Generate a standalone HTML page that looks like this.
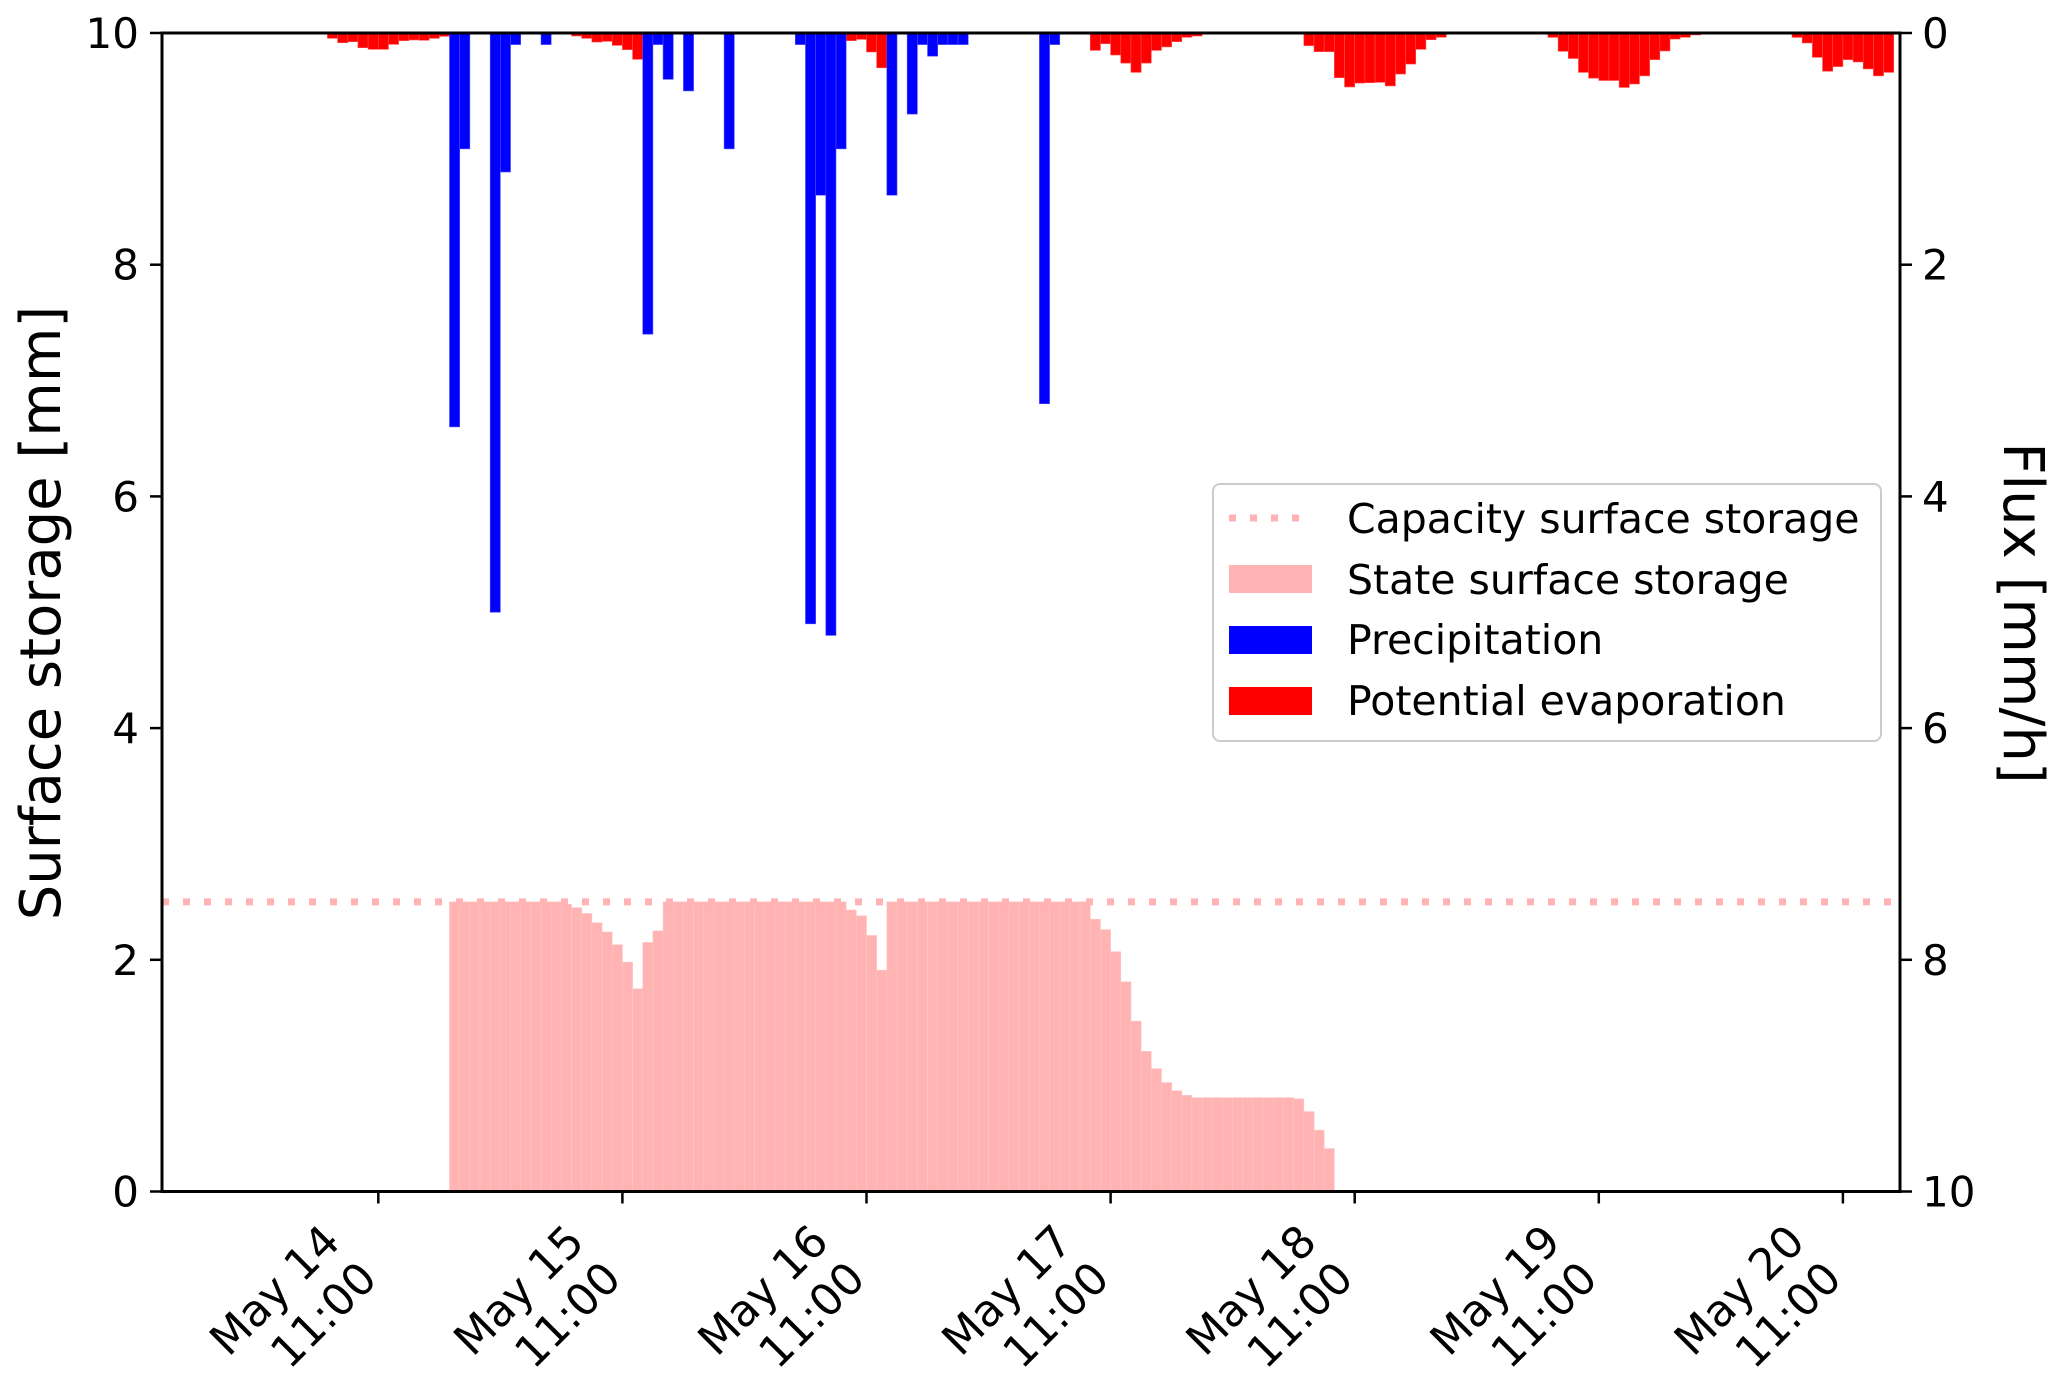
<!DOCTYPE html>
<html>
<head>
<meta charset="utf-8">
<style>
html,body{margin:0;padding:0;background:#fff;}
svg{display:block;}
text{font-family:"DejaVu Sans","Liberation Sans",sans-serif;fill:#000;}
</style>
</head>
<body>
<svg id="chart" width="2067" height="1379" viewBox="0 0 2067 1379" xmlns="http://www.w3.org/2000/svg">
  <rect x="0" y="0" width="2067" height="1379" fill="#fff"/>
  <g id="marks"></g>
  <g id="axes"></g>
  <text transform="translate(60,613) rotate(-90)" text-anchor="middle" font-size="56">Surface storage [mm]</text>
  <text transform="translate(2004,613) rotate(90)" text-anchor="middle" font-size="56">Flux [mm/h]</text>
  <g>
    <rect x="1213" y="484" width="668" height="257" rx="7" fill="#fff" fill-opacity="0.8" stroke="#cccccc" stroke-width="2"/>
    <line x1="1229" y1="518" x2="1312" y2="518" stroke="#ffb3b3" stroke-width="7" stroke-dasharray="7 14"/>
    <text x="1347" y="533" font-size="41">Capacity surface storage</text>
    <rect x="1229" y="565" width="83" height="28" fill="#ffb3b3"/>
    <text x="1347" y="594" font-size="41">State surface storage</text>
    <rect x="1229" y="626" width="83" height="28" fill="#0000ff"/>
    <text x="1347" y="654" font-size="41">Precipitation</text>
    <rect x="1229" y="687" width="83" height="28" fill="#ff0000"/>
    <text x="1347" y="715" font-size="41">Potential evaporation</text>
  </g>
</svg>
<script>
// ---- data (hours relative to May 14 11:00) ----
const storageStartHour = 7;
const storageValues = [2.5,2.5,2.5,2.5,2.5,2.5,2.5,2.5,2.5,2.5,2.5,
  2.48,2.45,2.40,2.32,2.24,2.13,1.98,1.75,2.15,2.25,
  2.5,2.5,2.5,2.5,2.5,2.5,2.5,2.5,2.5,2.5,2.5,2.5,2.5,2.5,2.5,2.5,2.5,2.5,
  2.43,2.38,2.21,1.91,
  2.5,2.5,2.5,2.5,2.5,2.5,2.5,2.5,2.5,2.5,2.5,2.5,2.5,2.5,2.5,2.5,2.5,2.5,2.5,2.5,
  2.35,2.26,2.07,1.81,1.47,1.21,1.06,0.94,0.87,0.83,
  0.81,0.81,0.81,0.81,0.81,0.81,0.81,0.81,0.81,0.81,
  0.80,0.69,0.53,0.37];
const capacity = 2.5;
const precipHours = [7,8,11,12,13,16,26,27,28,30,34,41,42,43,44,45,50,52,53,54,55,56,57,65,66];
const precipValues = [3.4,1.0,5.0,1.2,0.1,0.1,2.6,0.1,0.4,0.5,1.0,0.1,5.1,1.4,5.2,1.0,1.4,0.7,0.1,0.2,0.1,0.1,0.1,3.2,0.1];
const evapHours = [-5,-4,-3,-2,-1,0,1,2,3,4,5,6,
  18,19,20,21,22,23,24,25,
  46,47,48,49,
  70,71,72,73,74,75,76,77,78,79,80,
  91,92,93,94,95,96,97,98,99,100,101,102,103,104,
  114,115,116,117,118,119,120,121,122,123,124,125,126,127,128,129,
  138,139,140,141,142,143,144,145,146,147,148];
const evapValues = [0.046,0.084,0.075,0.127,0.141,0.141,0.098,0.066,0.06,0.063,0.046,0.029,
  0.01,0.026,0.046,0.078,0.072,0.107,0.144,0.227,
  0.066,0.055,0.164,0.30,
  0.15,0.092,0.19,0.26,0.34,0.26,0.15,0.12,0.075,0.037,0.026,
  0.109,0.161,0.161,0.386,0.466,0.432,0.429,0.426,0.457,0.354,0.268,0.141,0.058,0.037,
  0.009,0.038,0.158,0.22,0.34,0.39,0.41,0.41,0.47,0.44,0.37,0.23,0.155,0.052,0.037,0.017,
  0.009,0.038,0.086,0.21,0.33,0.29,0.23,0.25,0.31,0.37,0.34];
const xTickDays = ["May 14","May 15","May 16","May 17","May 18","May 19","May 20"];
const xTickTime = "11:00";
const leftTicks = [0,2,4,6,8,10];
const rightTicks = [0,2,4,6,8,10];

// ---- layout / scales ----
const L=162, R=1900, T=33, B=1191.5;
const hourPx = 244.1/24, x0 = 378.3;
function xs(h){ return x0 + h*hourPx; }
function yL(v){ return B - (B-T)*v/10; }
function yR(v){ return T + (B-T)*v/10; }
const NS="http://www.w3.org/2000/svg";
const marks=document.getElementById('marks');
const axes=document.getElementById('axes');
function mk(tag, attrs, parent){
  const e=document.createElementNS(NS,tag);
  for(const k in attrs) e.setAttribute(k, attrs[k]);
  parent.appendChild(e); return e;
}

// evaporation
evapHours.forEach((h,i)=>{
  const r=mk('rect',{x:xs(h),y:T,width:hourPx,height:yR(evapValues[i])-T,fill:'#ff0000',stroke:'#ff4d4d','stroke-width':0.6},marks);
  
  
});
// precipitation
precipHours.forEach((h,i)=>{
  const r=mk('rect',{x:xs(h),y:T,width:hourPx,height:yR(precipValues[i])-T,fill:'#0000ff',stroke:'#4d4dff','stroke-width':0.6},marks);
  
  
});
// storage
storageValues.forEach((v,i)=>{
  const r=mk('rect',{x:xs(storageStartHour+i),y:yL(v),width:hourPx,height:B-yL(v),fill:'#ffb3b3',stroke:'#ffc6c6','stroke-width':0.6},marks);
  
  
});
// capacity line
const cap=mk('line',{x1:L,x2:R,y1:yL(capacity),y2:yL(capacity),stroke:'#ffb3b3','stroke-width':7,'stroke-dasharray':'7 14'},marks);



// spines
const frame=mk('rect',{x:L,y:T,width:R-L,height:B-T,fill:'none',stroke:'#000','stroke-width':3},axes);



// left ticks
leftTicks.forEach(v=>{
  const y=yL(v);
  const t=mk('line',{x1:L-12,x2:L,y1:y,y2:y,stroke:'#000','stroke-width':2.5},axes);
  
  
  const tx=mk('text',{x:139,y:y+15,'text-anchor':'end','font-size':42},axes);
  
  
  tx.textContent=v;
});
// right ticks
rightTicks.forEach(v=>{
  const y=yR(v);
  const t=mk('line',{x1:R,x2:R+12,y1:y,y2:y,stroke:'#000','stroke-width':2.5},axes);
  
  
  const tx=mk('text',{x:1922,y:y+15,'text-anchor':'start','font-size':42},axes);
  
  
  tx.textContent=v;
});
// x ticks
xTickDays.forEach((d,i)=>{
  const x=xs(i*24);
  const t=mk('line',{x1:x,x2:x,y1:B,y2:B+12,stroke:'#000','stroke-width':2.5},axes);
  
  
  const g=mk('g',{transform:`translate(${x-36},1244) rotate(-45)`},axes);
  
  
  const t1=mk('text',{x:0,y:0,'text-anchor':'end','font-size':44},g);
  t1.textContent=d;
  const t2=mk('text',{x:0,y:52,'text-anchor':'end','font-size':44},g);
  t2.textContent=xTickTime;
});
</script>
</body>
</html>
